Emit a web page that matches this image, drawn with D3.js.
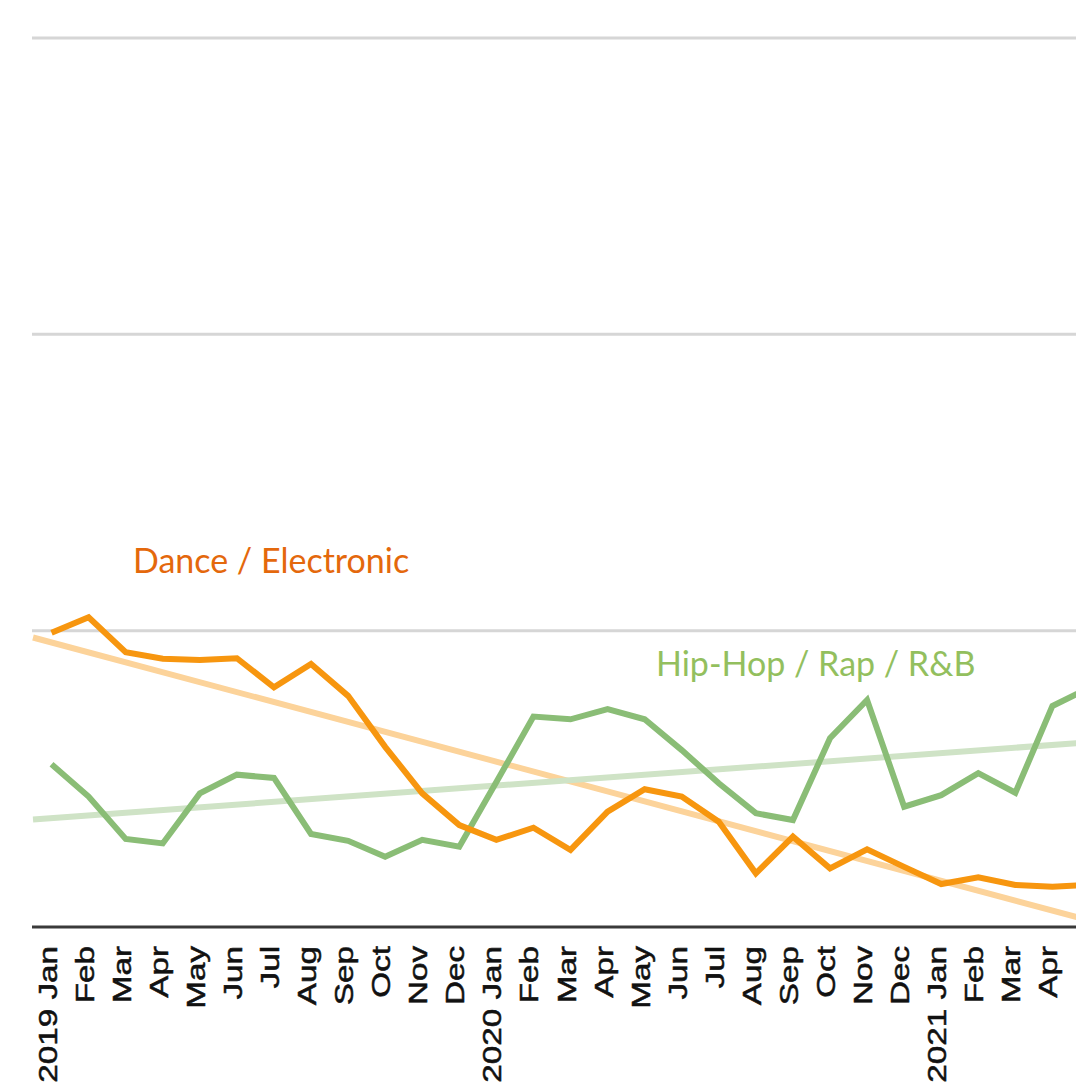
<!DOCTYPE html>
<html>
<head>
<meta charset="utf-8">
<script src="https://cdn.jsdelivr.net/npm/d3@7/dist/d3.min.js"></script>
<style>
  body { margin: 0; background: #fff; }
  svg { display: block; }
</style>
</head>
<body>
<div id="chart"></div>
<script>
// Months shown on the axis (the last one runs off the right edge)
var months = ['Jan', 'Feb', 'Mar', 'Apr', 'May', 'Jun', 'Jul', 'Aug', 'Sep', 'Oct', 'Nov', 'Dec',
  'Jan', 'Feb', 'Mar', 'Apr', 'May', 'Jun', 'Jul', 'Aug', 'Sep', 'Oct', 'Nov', 'Dec',
  'Jan', 'Feb', 'Mar', 'Apr', 'May'];
var years = ['2019', '', '', '', '', '', '', '', '', '', '', '',
  '2020', '', '', '', '', '', '', '', '', '', '', '',
  '2021', '', '', '', ''];

// Series values (share, %)
var dance = [9.93, 10.45, 9.27, 9.05, 9.01, 9.07, 8.09, 8.88, 7.80, 6.08, 4.51, 3.44,
  2.94, 3.35, 2.60, 3.89, 4.65, 4.40, 3.55, 1.81, 3.05, 1.98, 2.62, 2.03,
  1.45, 1.68, 1.42, 1.36, 1.42];
var hiphop = [5.49, 4.40, 2.97, 2.82, 4.51, 5.14, 5.03, 3.14, 2.91, 2.37, 2.94, 2.71,
  4.89, 7.10, 7.01, 7.35, 7.01, 5.97, 4.85, 3.84, 3.61, 6.37, 7.66, 4.06,
  4.45, 5.19, 4.53, 7.46, 8.07];

// Trend lines: value at the left and right edge of the x domain
var trendEdges = [-0.5, 28.5];
var danceTrend = [9.77, 0.05];
var hiphopTrend = [3.63, 6.28];

var yTicks = [10, 20, 30];

var width = 1076, height = 1092;
var baseY = 927, topY = 38, leftX = 33;
var step = 37.07;

var svg = d3.select('#chart')
  .append('svg')
  .attr('width', width)
  .attr('height', height);

var x = d3.scaleLinear()
  .domain([-0.5, months.length - 0.5])
  .range([leftX, leftX + months.length * step]);
var y = d3.scaleLinear()
  .domain([0, 30])
  .range([baseY, topY]);

// gridlines
svg.selectAll('.grid')
  .data(yTicks)
  .enter()
  .append('line')
  .attr('class', 'grid')
  .attr('x1', 32)
  .attr('x2', width)
  .attr('y1', function(d) { return y(d); })
  .attr('y2', function(d) { return y(d); })
  .style('stroke', '#d6d6d6')
  .style('stroke-width', 3);

// trend lines
var trendLine = d3.line()
  .x(function(d, i) { return x(trendEdges[i]); })
  .y(function(d) { return y(d); });
svg.append('path')
  .attr('d', trendLine(danceTrend))
  .style('fill', 'none')
  .style('stroke', '#fcd39a')
  .style('stroke-width', 6);
svg.append('path')
  .attr('d', trendLine(hiphopTrend))
  .style('fill', 'none')
  .style('stroke', '#cfe3c6')
  .style('stroke-width', 6);

// series lines
var line = d3.line()
  .x(function(d, i) { return x(i); })
  .y(function(d) { return y(d); });
svg.append('path')
  .attr('d', line(hiphop))
  .style('fill', 'none')
  .style('stroke', '#8abd76')
  .style('stroke-width', 6)
  .style('stroke-linejoin', 'miter');
svg.append('path')
  .attr('d', line(dance))
  .style('fill', 'none')
  .style('stroke', '#f7960f')
  .style('stroke-width', 6)
  .style('stroke-linejoin', 'miter');

// x axis
svg.append('line')
  .attr('x1', 32)
  .attr('x2', width)
  .attr('y1', baseY)
  .attr('y2', baseY)
  .style('stroke', '#3a3a3a')
  .style('stroke-width', 3);

var stretch = 1.33;
var ticks = svg.selectAll('.tick')
  .data(months)
  .enter()
  .append('g')
  .attr('class', 'tick')
  .attr('transform', function(d, i) { return 'translate(' + x(i) + ',' + baseY + ')'; });
ticks.append('text')
  .attr('transform', 'rotate(-90) scale(' + stretch + ',1)')
  .attr('x', -19 / stretch)
  .attr('y', 5)
  .attr('text-anchor', 'end')
  .style('font-family', '"Liberation Sans", Arial, sans-serif')
  .style('font-size', '25px')
  .style('fill', '#111')
  .style('stroke', '#111')
  .style('stroke-width', 0.5)
  .text(function(d, i) { return years[i] ? years[i] + ' ' + d : d; });

// series labels
svg.append('text')
  .attr('x', 133)
  .attr('y', 573)
  .style('font-family', 'Lato, sans-serif')
  .style('font-size', '34px')
  .style('fill', '#e4680c')
  .text('Dance / Electronic');
svg.append('text')
  .attr('x', 656)
  .attr('y', 676)
  .style('font-family', 'Lato, sans-serif')
  .style('font-size', '34px')
  .style('fill', '#93bf5e')
  .text('Hip-Hop / Rap / R&B');
</script>
</body>
</html>
